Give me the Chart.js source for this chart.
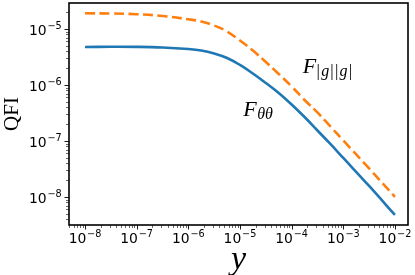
<!DOCTYPE html>
<html><head><meta charset="utf-8">
<script src="https://cdn.jsdelivr.net/npm/chart.js@4/dist/chart.umd.min.js"></script>
<style>html,body{margin:0;padding:0;background:#fff}#wrap{width:415px;height:275px}</style>
</head><body><div id="wrap"><canvas id="c" width="415" height="275"></canvas></div>
<script>
// x values (the "y" parameter of the figure)
const xValues = [1e-8, 3.162e-8, 1e-7, 3.162e-7, 1e-6, 1.778e-6, 3.162e-6, 5.623e-6, 1e-5, 1.778e-5, 3.162e-5, 5.623e-5, 1e-4, 1.778e-4, 3.162e-4, 5.623e-4, 1e-3, 3.162e-3, 1e-2];
// F_theta theta (solid blue)
const fThetaTheta = [4.77e-6, 4.81e-6, 4.79e-6, 4.67e-6, 4.39e-6, 4.13e-6, 3.65e-6, 3.03e-6, 2.28e-6, 1.605e-6, 1.085e-6, 7.20e-7, 4.49e-7, 2.68e-7, 1.54e-7, 8.84e-8, 4.97e-8, 1.572e-8, 4.77e-9];
// F_|g||g| (dashed orange)
const fGG = [1.907e-5, 1.891e-5, 1.837e-5, 1.706e-5, 1.490e-5, 1.361e-5, 1.155e-5, 9.02e-6, 6.23e-6, 4.13e-6, 2.575e-6, 1.572e-6, 9.40e-7, 5.40e-7, 3.23e-7, 1.815e-7, 1.021e-7, 3.23e-8, 1.0e-8];
const seriesNames = ['F_θθ', 'F_|g||g|'];
const xRange = [4.9e-9, 1.79e-2];
const yRange = [3.16e-9, 2.91e-5];
const xTitle = 'y';
const yTitle = 'QFI';
// annotation labels: [main, subscript, x, y(baseline)]
const annotations = [
  ['F', 'θθ', 1.159e-5, 2.795e-7],
  ['F', '|g||g|', 1.633e-4, 1.66e-6]
];

function isPow10(v){const l=Math.log10(v);return Math.abs(l-Math.round(l))<1e-6;}
function expOf(v){return Math.round(Math.log10(v));}
function buildTicks(scale){
  const t=[];
  for(let e=-10;e<=0;e++){for(let m=1;m<=9;m++){const v=Number(m+'e'+e);
    if(v>=scale.min*0.9999&&v<=scale.max*1.0001)t.push({value:v,major:m===1,label:m===1?('10^'+e):''});}}
  scale.ticks=t;
}
const BASE_FONT='13.9px "DejaVu Sans"', EXP_FONT='9.7px "DejaVu Sans"';
function drawPowLabel(ctx,v,x,y,align){
  const e=expOf(v), ex=(e<0?'\u2212':'')+Math.abs(e);
  ctx.font=BASE_FONT;const w1=ctx.measureText('10').width;
  ctx.font=EXP_FONT;const w2=ctx.measureText(ex).width;
  const tot=w1+0.8+w2;
  let x0=align==='center'?x-tot/2:x-tot;
  ctx.textAlign='left';ctx.textBaseline='alphabetic';
  ctx.font=BASE_FONT;ctx.fillText('10',x0,y);
  ctx.font=EXP_FONT;ctx.fillText(ex,x0+w1+0.8,y-6);
}
const frameTicks={id:'frameTicks',afterDraw(chart){
  const ctx=chart.ctx,a=chart.chartArea;
  ctx.save();ctx.strokeStyle='#000';ctx.fillStyle='#000';
  const xs=chart.scales.x,ys=chart.scales.y;
  xs.ticks.forEach(t=>{const p=Math.round(xs.getPixelForValue(t.value))+0.5;
    const L=t.major?3.5:2;ctx.lineWidth=t.major?0.9:0.6;
    ctx.beginPath();ctx.moveTo(p,a.bottom);ctx.lineTo(p,a.bottom+L+1);ctx.stroke();
    if(t.major)drawPowLabel(ctx,t.value,xs.getPixelForValue(t.value),a.bottom+18.3,'center');});
  ys.ticks.forEach(t=>{const p=Math.round(ys.getPixelForValue(t.value))+0.5;
    const L=t.major?3.5:2;ctx.lineWidth=t.major?0.9:0.6;
    ctx.beginPath();ctx.moveTo(a.left,p);ctx.lineTo(a.left-L-1,p);ctx.stroke();
    if(t.major)drawPowLabel(ctx,t.value,a.left-7.3,ys.getPixelForValue(t.value)+6.2,'right');});
  ctx.lineWidth=1.6;ctx.strokeRect(a.left,a.top,a.right-a.left,a.bottom-a.top);
  // annotations
  ctx.textBaseline='alphabetic';ctx.textAlign='left';
  annotations.forEach(([m,s,x,y])=>{
    const px=xs.getPixelForValue(x),py=ys.getPixelForValue(y);
    ctx.font='italic 22px "Liberation Serif"';ctx.fillText(m,px,py);
    let cx=px+ctx.measureText(m).width+0.5;
    for(const ch of s){
      if(ch==='|'){ctx.font='17px "Liberation Serif"';}
      else{ctx.font='italic 16px "Liberation Serif"';}
      ctx.fillText(ch,cx,py+3.5);
      cx+=ctx.measureText(ch).width+(ch==='θ'?0:1.2);
    }
  });
  ctx.restore();
}};
new Chart(document.getElementById('c'),{
  type:'line',
  data:{datasets:[
    {label:seriesNames[0],data:xValues.map((x,i)=>({x,y:fThetaTheta[i]})),borderColor:'#1f77b4',borderWidth:2.6,pointRadius:0,fill:false,tension:0.4,borderCapStyle:'butt'},
    {label:seriesNames[1],data:xValues.map((x,i)=>({x,y:fGG[i]})),borderColor:'#ff7f0e',borderWidth:2.6,borderDash:[10,4.5],pointRadius:0,fill:false,tension:0.4,borderCapStyle:'butt'}
  ]},
  options:{
    responsive:false,animation:false,
    layout:{padding:{left:0,right:7,top:3,bottom:0}},
    plugins:{legend:{display:false},tooltip:{enabled:false}},
    scales:{
      x:{type:'logarithmic',min:xRange[0],max:xRange[1],
        afterBuildTicks:buildTicks,afterFit(s){s.height=50;},
        grid:{display:false},border:{display:false},
        ticks:{display:false,autoSkip:false},
        title:{display:true,text:xTitle,color:'#000',font:{family:'Liberation Serif',size:34,style:'italic',lineHeight:0.9},padding:{top:0,bottom:0}}},
      y:{type:'logarithmic',min:yRange[0],max:yRange[1],
        afterBuildTicks:buildTicks,afterFit(s){s.width=69;},
        grid:{display:false},border:{display:false},
        ticks:{display:false,autoSkip:false},
        title:{display:true,text:yTitle,color:'#000',font:{family:'Liberation Serif',size:21,lineHeight:1},padding:{top:1.5,bottom:0}}}
    }
  },
  plugins:[frameTicks]
});
</script></body></html>
